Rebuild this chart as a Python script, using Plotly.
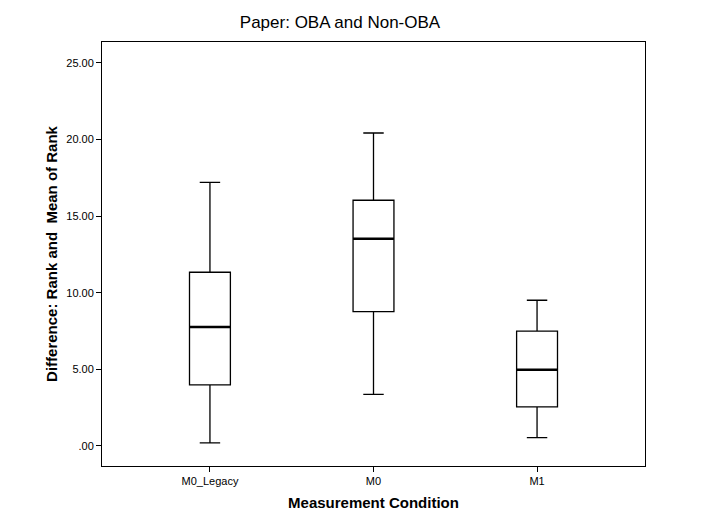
import plotly.graph_objects as go

categories = ["M0_Legacy", "M0", "M1"]
lower_whisker = [0.20, 3.37, 0.54]
q1 = [3.98, 8.77, 2.55]
median = [7.77, 13.53, 4.98]
q3 = [11.34, 16.04, 7.50]
upper_whisker = [17.21, 20.43, 9.51]
ytick_vals = [0, 5, 10, 15, 20, 25]
ytick_text = [".00", "5.00", "10.00", "15.00", "20.00", "25.00"]

pos = list(range(len(categories)))
box_w = 0.25

fig = go.Figure()
fig.add_trace(go.Box(
    x=pos, q1=q1, median=median, q3=q3,
    lowerfence=lower_whisker, upperfence=upper_whisker,
    width=box_w, whiskerwidth=0.5,
    fillcolor="white", line=dict(color="black", width=1.3),
    boxpoints=False, showlegend=False, hoverinfo="skip",
))
mx, my = [], []
for p, m in zip(pos, median):
    mx += [p - box_w / 2, p + box_w / 2, None]
    my += [m, m, None]
fig.add_trace(go.Scatter(x=mx, y=my, mode="lines",
                         line=dict(color="black", width=2.5),
                         showlegend=False, hoverinfo="skip"))

font = "Liberation Sans, Arial, sans-serif"
fig.update_layout(
    width=701, height=527,
    margin=dict(l=102, r=56, t=42, b=61),
    paper_bgcolor="white", plot_bgcolor="white",
    font=dict(family=font, color="black", size=11),
    title=dict(text="Paper: OBA and Non-OBA", x=340/701, xref="container",
               xanchor="center", y=1 - 22/527, yanchor="middle",
               font=dict(size=17, family=font, color="black")),
    xaxis=dict(range=[-0.66, 2.66], tickvals=pos, ticktext=categories,
               showgrid=False, zeroline=False, showline=True, mirror=True,
               linecolor="black", linewidth=1, ticks="outside", ticklen=5,
               tickcolor="black", tickfont=dict(size=11),
               title=dict(text="<b>Measurement Condition</b>", font=dict(size=15), standoff=11)),
    yaxis=dict(range=[-1.31, 26.37], tickvals=ytick_vals, ticktext=ytick_text,
               showgrid=False, zeroline=False, showline=True, mirror=True,
               linecolor="black", linewidth=1, ticks="outside", ticklen=5,
               tickcolor="black", tickfont=dict(size=11),
               title=dict(text="<b>Difference: Rank and  Mean of Rank</b>", font=dict(size=15), standoff=5)),
)
fig.write_html("out.html")
